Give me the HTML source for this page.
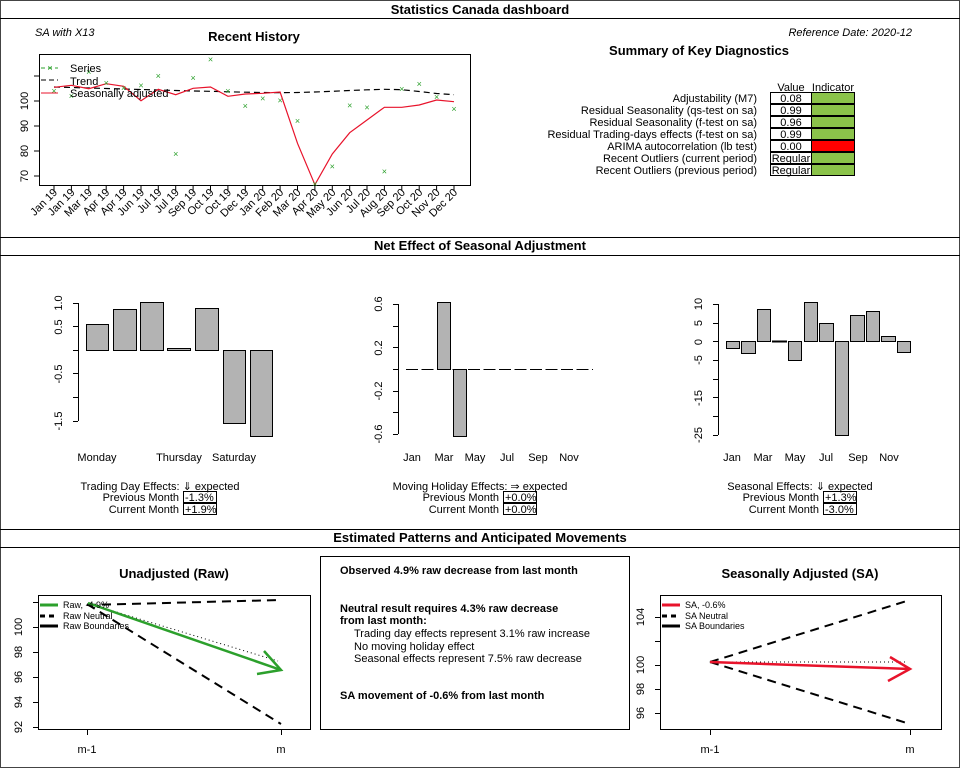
<!DOCTYPE html>
<html><head><meta charset="utf-8"><style>
html,body{margin:0;padding:0;background:#fff}
svg{display:block}
text{font-family:"Liberation Sans",Arial,sans-serif;fill:#000}
.b{font-weight:bold}
text.g{fill:#2ca02c}
</style></head><body>
<svg width="960" height="768" viewBox="0 0 960 768" xmlns="http://www.w3.org/2000/svg">
<rect x="0.5" y="0.5" width="959" height="767" fill="none" stroke="#444"/>
<line x1="0" y1="18.5" x2="960" y2="18.5" stroke="#000"/>
<line x1="0" y1="237.5" x2="960" y2="237.5" stroke="#000"/>
<line x1="0" y1="255.5" x2="960" y2="255.5" stroke="#000"/>
<line x1="0" y1="529.5" x2="960" y2="529.5" stroke="#000"/>
<line x1="0" y1="547.5" x2="960" y2="547.5" stroke="#000"/>
<text x="480" y="14" font-size="13" class="b" text-anchor="middle">Statistics Canada dashboard</text>
<text x="480" y="250" font-size="13" class="b" text-anchor="middle">Net Effect of Seasonal Adjustment</text>
<text x="480" y="542" font-size="13" class="b" text-anchor="middle">Estimated Patterns and Anticipated Movements</text>

<text x="35" y="36" font-size="11" font-style="italic">SA with X13</text>
<text x="912" y="36" font-size="11" font-style="italic" text-anchor="end">Reference Date: 2020-12</text>
<text x="254" y="41" font-size="13" class="b" text-anchor="middle">Recent History</text>
<rect x="39.5" y="54.5" width="431" height="131" fill="none" stroke="#000"/>
<g stroke="#000">
<line x1="34" y1="76" x2="39" y2="76"/><line x1="34" y1="101" x2="39" y2="101"/><line x1="34" y1="126" x2="39" y2="126"/><line x1="34" y1="151" x2="39" y2="151"/><line x1="34" y1="176" x2="39" y2="176"/>
</g>
<g font-size="11" text-anchor="middle">
<text transform="translate(28,101) rotate(-90)">100</text>
<text transform="translate(28,126) rotate(-90)">90</text>
<text transform="translate(28,151) rotate(-90)">80</text>
<text transform="translate(28,176) rotate(-90)">70</text>
</g>
<polyline fill="none" stroke="#000" stroke-width="1.2" stroke-dasharray="6,4" points="54,87 71.4,87.5 88.8,88 106.2,88.5 123.6,89 141,89.5 158.3,90 175.7,90.5 193.1,91 210.5,91.3 227.9,91.8 245.3,92.2 262.7,92.5 280.1,92.7 297.5,92.5 314.9,92 332.3,91.3 349.7,90.5 367,89.8 384.4,89.3 401.8,89.7 419.2,91.5 436.6,93.5 454,94.7"/>
<polyline fill="none" stroke="#e8132b" stroke-width="1.2" points="54,87.3 71.4,85.3 88.8,88.7 106.2,83.7 123.6,86.3 141,100.7 158.3,89.3 175.7,94.7 193.1,88.3 210.5,87 227.9,96.3 245.3,94 262.7,93.3 280.1,92 297.5,143.3 314.9,184.7 332.3,154 349.7,132.7 367,120 384.4,107.3 401.8,107.3 419.2,105 436.6,100 454,101.7"/>
<g font-size="9" text-anchor="middle" style="fill:#2ca02c">
<text class="g" x="54" y="94">×</text><text class="g" x="71.4" y="99">×</text><text class="g" x="88.8" y="75">×</text><text class="g" x="106.2" y="86">×</text><text class="g" x="123.6" y="91">×</text><text class="g" x="141" y="88.7">×</text><text class="g" x="158.3" y="79">×</text><text class="g" x="175.7" y="157">×</text><text class="g" x="193.1" y="81">×</text><text class="g" x="210.5" y="62.7">×</text><text class="g" x="227.9" y="94">×</text><text class="g" x="245.3" y="109">×</text><text class="g" x="262.7" y="101.7">×</text><text class="g" x="280.1" y="103.7">×</text><text class="g" x="297.5" y="124">×</text><text class="g" x="314.9" y="187">×</text><text class="g" x="332.3" y="169.7">×</text><text class="g" x="349.7" y="108.7">×</text><text class="g" x="367" y="110.7">×</text><text class="g" x="384.4" y="174.7">×</text><text class="g" x="401.8" y="92">×</text><text class="g" x="419.2" y="87">×</text><text class="g" x="436.6" y="100">×</text><text class="g" x="454" y="112">×</text>
</g>
<line x1="41" y1="68" x2="58" y2="68" stroke="#2ca02c" stroke-dasharray="4,3"/>
<text class="g" x="50" y="71" font-size="9" text-anchor="middle">×</text>
<line x1="41" y1="80" x2="58" y2="80" stroke="#000" stroke-dasharray="5,3"/>
<line x1="41" y1="93" x2="58" y2="93" stroke="#e8132b"/>
<g font-size="11"><text x="70" y="72">Series</text><text x="70" y="85">Trend</text><text x="70" y="97">Seasonally adjusted</text></g>
<g stroke="#000">
<line x1="54" y1="185" x2="54" y2="190"/><line x1="71.4" y1="185" x2="71.4" y2="190"/><line x1="88.8" y1="185" x2="88.8" y2="190"/><line x1="106.2" y1="185" x2="106.2" y2="190"/><line x1="123.6" y1="185" x2="123.6" y2="190"/><line x1="141" y1="185" x2="141" y2="190"/><line x1="158.3" y1="185" x2="158.3" y2="190"/><line x1="175.7" y1="185" x2="175.7" y2="190"/><line x1="193.1" y1="185" x2="193.1" y2="190"/><line x1="210.5" y1="185" x2="210.5" y2="190"/><line x1="227.9" y1="185" x2="227.9" y2="190"/><line x1="245.3" y1="185" x2="245.3" y2="190"/><line x1="262.7" y1="185" x2="262.7" y2="190"/><line x1="280.1" y1="185" x2="280.1" y2="190"/><line x1="297.5" y1="185" x2="297.5" y2="190"/><line x1="314.9" y1="185" x2="314.9" y2="190"/><line x1="332.3" y1="185" x2="332.3" y2="190"/><line x1="349.7" y1="185" x2="349.7" y2="190"/><line x1="367" y1="185" x2="367" y2="190"/><line x1="384.4" y1="185" x2="384.4" y2="190"/><line x1="401.8" y1="185" x2="401.8" y2="190"/><line x1="419.2" y1="185" x2="419.2" y2="190"/><line x1="436.6" y1="185" x2="436.6" y2="190"/><line x1="454" y1="185" x2="454" y2="190"/>
</g>
<g font-size="11" text-anchor="end">
<text transform="translate(58,193) rotate(-45)">Jan 19</text>
<text transform="translate(75.4,193) rotate(-45)">Jan 19</text>
<text transform="translate(92.8,193) rotate(-45)">Mar 19</text>
<text transform="translate(110.2,193) rotate(-45)">Apr 19</text>
<text transform="translate(127.6,193) rotate(-45)">Apr 19</text>
<text transform="translate(145,193) rotate(-45)">Jun 19</text>
<text transform="translate(162.3,193) rotate(-45)">Jul 19</text>
<text transform="translate(179.7,193) rotate(-45)">Jul 19</text>
<text transform="translate(197.1,193) rotate(-45)">Sep 19</text>
<text transform="translate(214.5,193) rotate(-45)">Oct 19</text>
<text transform="translate(231.9,193) rotate(-45)">Oct 19</text>
<text transform="translate(249.3,193) rotate(-45)">Dec 19</text>
<text transform="translate(266.7,193) rotate(-45)">Jan 20</text>
<text transform="translate(284.1,193) rotate(-45)">Feb 20</text>
<text transform="translate(301.5,193) rotate(-45)">Mar 20</text>
<text transform="translate(318.9,193) rotate(-45)">Apr 20</text>
<text transform="translate(336.3,193) rotate(-45)">May 20</text>
<text transform="translate(353.7,193) rotate(-45)">Jun 20</text>
<text transform="translate(371,193) rotate(-45)">Jul 20</text>
<text transform="translate(388.4,193) rotate(-45)">Aug 20</text>
<text transform="translate(405.8,193) rotate(-45)">Sep 20</text>
<text transform="translate(423.2,193) rotate(-45)">Oct 20</text>
<text transform="translate(440.6,193) rotate(-45)">Nov 20</text>
<text transform="translate(458,193) rotate(-45)">Dec 20</text>
</g>

<text x="699" y="55" font-size="13" class="b" text-anchor="middle">Summary of Key Diagnostics</text>
<text x="791" y="91" font-size="11" text-anchor="middle" text-decoration="underline">Value</text>
<text x="833" y="91" font-size="11" text-anchor="middle" text-decoration="underline">Indicator</text>
<g stroke="#000">
<rect x="770.5" y="92.5" width="41" height="11" fill="#fff"/><rect x="811.5" y="92.5" width="43" height="11" fill="#8bc34a"/>
<rect x="770.5" y="104.5" width="41" height="11" fill="#fff"/><rect x="811.5" y="104.5" width="43" height="11" fill="#8bc34a"/>
<rect x="770.5" y="116.5" width="41" height="11" fill="#fff"/><rect x="811.5" y="116.5" width="43" height="11" fill="#8bc34a"/>
<rect x="770.5" y="128.5" width="41" height="11" fill="#fff"/><rect x="811.5" y="128.5" width="43" height="11" fill="#8bc34a"/>
<rect x="770.5" y="140.5" width="41" height="11" fill="#fff"/><rect x="811.5" y="140.5" width="43" height="11" fill="#ff0000"/>
<rect x="770.5" y="152.5" width="41" height="11" fill="#fff"/><rect x="811.5" y="152.5" width="43" height="11" fill="#8bc34a"/>
<rect x="770.5" y="164.5" width="41" height="11" fill="#fff"/><rect x="811.5" y="164.5" width="43" height="11" fill="#8bc34a"/>
</g>
<g font-size="11" text-anchor="end">
<text x="757" y="102">Adjustability (M7)</text>
<text x="757" y="114">Residual Seasonality (qs-test on sa)</text>
<text x="757" y="126">Residual Seasonality (f-test on sa)</text>
<text x="757" y="138">Residual Trading-days effects (f-test on sa)</text>
<text x="757" y="150">ARIMA autocorrelation (lb test)</text>
<text x="757" y="162">Recent Outliers (current period)</text>
<text x="757" y="174">Recent Outliers (previous period)</text>
</g>
<g font-size="11" text-anchor="middle">
<text x="791" y="102">0.08</text><text x="791" y="114">0.99</text><text x="791" y="126">0.96</text><text x="791" y="138">0.99</text><text x="791" y="150">0.00</text><text x="791" y="162">Regular</text><text x="791" y="174">Regular</text>
</g>

<g stroke="#000">
<line x1="78.5" y1="303" x2="78.5" y2="421"/>
<line x1="73" y1="303.5" x2="78" y2="303.5"/><line x1="73" y1="326.5" x2="78" y2="326.5"/><line x1="73" y1="350.5" x2="78" y2="350.5"/><line x1="73" y1="373.5" x2="78" y2="373.5"/><line x1="73" y1="397.5" x2="78" y2="397.5"/><line x1="73" y1="421.5" x2="78" y2="421.5"/>
</g>
<g font-size="11" text-anchor="middle">
<text transform="translate(62,303) rotate(-90)">1.0</text>
<text transform="translate(62,327) rotate(-90)">0.5</text>
<text transform="translate(62,374) rotate(-90)">-0.5</text>
<text transform="translate(62,421) rotate(-90)">-1.5</text>
</g>
<g fill="#b3b3b3" stroke="#000">
<rect x="86.5" y="324.5" width="22" height="26"/>
<rect x="113.5" y="309.5" width="23" height="41"/>
<rect x="140.5" y="302.5" width="23" height="48"/>
<rect x="167.5" y="348.5" width="23" height="2"/>
<rect x="195.5" y="308.5" width="23" height="42"/>
<rect x="223.5" y="350.5" width="22" height="73"/>
<rect x="250.5" y="350.5" width="22" height="86"/>
</g>
<g font-size="11" text-anchor="middle"><text x="97" y="461">Monday</text><text x="179" y="461">Thursday</text><text x="234" y="461">Saturday</text></g>
<text x="160" y="490" font-size="11" text-anchor="middle">Trading Day Effects:  ⇓  expected</text>
<text x="179" y="501" font-size="11" text-anchor="end">Previous Month</text>
<text x="179" y="513" font-size="11" text-anchor="end">Current Month</text>
<rect x="183.5" y="491.5" width="33" height="11" fill="none" stroke="#000"/>
<rect x="183.5" y="503.5" width="33" height="11" fill="none" stroke="#000"/>
<text x="185" y="501" font-size="11">-1.3%</text>
<text x="185" y="513" font-size="11">+1.9%</text>

<g stroke="#000">
<line x1="398.5" y1="304" x2="398.5" y2="434"/>
<line x1="393" y1="304.5" x2="398" y2="304.5"/><line x1="393" y1="326.5" x2="398" y2="326.5"/><line x1="393" y1="347.5" x2="398" y2="347.5"/><line x1="393" y1="369.5" x2="398" y2="369.5"/><line x1="393" y1="391.5" x2="398" y2="391.5"/><line x1="393" y1="412.5" x2="398" y2="412.5"/><line x1="393" y1="434.5" x2="398" y2="434.5"/>
</g>
<g font-size="11" text-anchor="middle">
<text transform="translate(382,304) rotate(-90)">0.6</text>
<text transform="translate(382,348) rotate(-90)">0.2</text>
<text transform="translate(382,391) rotate(-90)">-0.2</text>
<text transform="translate(382,434) rotate(-90)">-0.6</text>
</g>
<line x1="406" y1="369.5" x2="593" y2="369.5" stroke="#000" stroke-dasharray="12,3.5"/>
<g fill="#b3b3b3" stroke="#000">
<rect x="437.5" y="302.5" width="13" height="67"/>
<rect x="453.5" y="369.5" width="13" height="67"/>
</g>
<g font-size="11" text-anchor="middle"><text x="412" y="461">Jan</text><text x="444" y="461">Mar</text><text x="475" y="461">May</text><text x="507" y="461">Jul</text><text x="538" y="461">Sep</text><text x="569" y="461">Nov</text></g>
<text x="480" y="490" font-size="11" text-anchor="middle">Moving Holiday Effects:  ⇒  expected</text>
<text x="499" y="501" font-size="11" text-anchor="end">Previous Month</text>
<text x="499" y="513" font-size="11" text-anchor="end">Current Month</text>
<rect x="503.5" y="491.5" width="33" height="11" fill="none" stroke="#000"/>
<rect x="503.5" y="503.5" width="33" height="11" fill="none" stroke="#000"/>
<text x="505" y="501" font-size="11">+0.0%</text>
<text x="505" y="513" font-size="11">+0.0%</text>

<g stroke="#000">
<line x1="718.5" y1="304" x2="718.5" y2="435"/>
<line x1="713" y1="304.5" x2="718" y2="304.5"/><line x1="713" y1="323.5" x2="718" y2="323.5"/><line x1="713" y1="341.5" x2="718" y2="341.5"/><line x1="713" y1="360.5" x2="718" y2="360.5"/><line x1="713" y1="379.5" x2="718" y2="379.5"/><line x1="713" y1="397.5" x2="718" y2="397.5"/><line x1="713" y1="416.5" x2="718" y2="416.5"/><line x1="713" y1="435.5" x2="718" y2="435.5"/>
</g>
<g font-size="11" text-anchor="middle">
<text transform="translate(702,304) rotate(-90)">10</text>
<text transform="translate(702,323) rotate(-90)">5</text>
<text transform="translate(702,342) rotate(-90)">0</text>
<text transform="translate(702,360) rotate(-90)">-5</text>
<text transform="translate(702,398) rotate(-90)">-15</text>
<text transform="translate(702,435) rotate(-90)">-25</text>
</g>
<g fill="#b3b3b3" stroke="#000">
<rect x="726.5" y="341.5" width="13" height="7"/>
<rect x="741.5" y="341.5" width="14" height="12"/>
<rect x="757.5" y="309.5" width="13" height="32"/>
<rect x="772.5" y="341" width="14" height="1"/>
<rect x="788.5" y="341.5" width="13" height="19"/>
<rect x="804.5" y="302.5" width="13" height="39"/>
<rect x="819.5" y="323.5" width="14" height="18"/>
<rect x="835.5" y="341.5" width="13" height="94"/>
<rect x="850.5" y="315.5" width="14" height="26"/>
<rect x="866.5" y="311.5" width="13" height="30"/>
<rect x="881.5" y="336.5" width="14" height="5"/>
<rect x="897.5" y="341.5" width="13" height="11"/>
</g>
<g font-size="11" text-anchor="middle"><text x="732" y="461">Jan</text><text x="763" y="461">Mar</text><text x="795" y="461">May</text><text x="826" y="461">Jul</text><text x="858" y="461">Sep</text><text x="889" y="461">Nov</text></g>
<text x="800" y="490" font-size="11" text-anchor="middle">Seasonal Effects:  ⇓  expected</text>
<text x="819" y="501" font-size="11" text-anchor="end">Previous Month</text>
<text x="819" y="513" font-size="11" text-anchor="end">Current Month</text>
<rect x="823.5" y="491.5" width="33" height="11" fill="none" stroke="#000"/>
<rect x="823.5" y="503.5" width="33" height="11" fill="none" stroke="#000"/>
<text x="825" y="501" font-size="11">+1.3%</text>
<text x="825" y="513" font-size="11">-3.0%</text>

<text x="174" y="578" font-size="13" class="b" text-anchor="middle">Unadjusted (Raw)</text>
<rect x="38.5" y="595.5" width="272" height="134" fill="none" stroke="#000"/>
<g stroke="#000">
<line x1="33" y1="602.5" x2="38" y2="602.5"/><line x1="33" y1="627.5" x2="38" y2="627.5"/><line x1="33" y1="652.5" x2="38" y2="652.5"/><line x1="33" y1="677.5" x2="38" y2="677.5"/><line x1="33" y1="702.5" x2="38" y2="702.5"/><line x1="33" y1="727.5" x2="38" y2="727.5"/>
<line x1="87.5" y1="730" x2="87.5" y2="735"/><line x1="281.5" y1="730" x2="281.5" y2="735"/>
</g>
<g font-size="11" text-anchor="middle">
<text transform="translate(22,627) rotate(-90)">100</text>
<text transform="translate(22,652) rotate(-90)">98</text>
<text transform="translate(22,677) rotate(-90)">96</text>
<text transform="translate(22,702) rotate(-90)">94</text>
<text transform="translate(22,727) rotate(-90)">92</text>
<text x="87" y="753">m-1</text><text x="281" y="753">m</text>
</g>
<g stroke="#000" stroke-width="2" stroke-dasharray="9,6" fill="none">
<line x1="87" y1="605" x2="281" y2="600"/>
<line x1="87" y1="604" x2="281" y2="724"/>
</g>
<line x1="90" y1="604" x2="278" y2="661" stroke="#000" stroke-dasharray="1,3"/>
<g stroke="#2ca02c" stroke-width="2.5" fill="none">
<line x1="88" y1="603" x2="281" y2="670"/>
<polyline points="264,651 281,670 257,674"/>
</g>
<line x1="40" y1="605" x2="58" y2="605" stroke="#2ca02c" stroke-width="3"/>
<line x1="40" y1="616" x2="58" y2="616" stroke="#000" stroke-width="3" stroke-dasharray="5,4"/>
<line x1="40" y1="626" x2="58" y2="626" stroke="#000" stroke-width="3"/>
<g font-size="9"><text x="63" y="608">Raw, -4.9%</text><text x="63" y="619">Raw Neutral</text><text x="63" y="629">Raw Boundaries</text></g>

<rect x="320.5" y="556.5" width="309" height="173" fill="none" stroke="#000"/>
<g font-size="11">
<text x="340" y="574" class="b">Observed 4.9% raw decrease from last month</text>
<text x="340" y="612" class="b">Neutral result requires 4.3% raw decrease</text>
<text x="340" y="624" class="b">from last month:</text>
<text x="354" y="637">Trading day effects represent 3.1% raw increase</text>
<text x="354" y="650">No moving holiday effect</text>
<text x="354" y="662">Seasonal effects represent 7.5% raw decrease</text>
<text x="340" y="699" class="b">SA movement of -0.6% from last month</text>
</g>

<text x="800" y="578" font-size="13" class="b" text-anchor="middle">Seasonally Adjusted (SA)</text>
<rect x="660.5" y="595.5" width="281" height="134" fill="none" stroke="#000"/>
<g stroke="#000">
<line x1="655" y1="617.5" x2="660" y2="617.5"/><line x1="655" y1="641.5" x2="660" y2="641.5"/><line x1="655" y1="665.5" x2="660" y2="665.5"/><line x1="655" y1="689.5" x2="660" y2="689.5"/><line x1="655" y1="713.5" x2="660" y2="713.5"/>
<line x1="710.5" y1="730" x2="710.5" y2="735"/><line x1="910.5" y1="730" x2="910.5" y2="735"/>
</g>
<g font-size="11" text-anchor="middle">
<text transform="translate(644,617) rotate(-90)">104</text>
<text transform="translate(644,665) rotate(-90)">100</text>
<text transform="translate(644,689) rotate(-90)">98</text>
<text transform="translate(644,713) rotate(-90)">96</text>
<text x="710" y="753">m-1</text><text x="910" y="753">m</text>
</g>
<g stroke="#000" stroke-width="2" stroke-dasharray="9,6" fill="none">
<line x1="710" y1="662" x2="910" y2="600"/>
<line x1="710" y1="662" x2="910" y2="724"/>
</g>
<line x1="712" y1="662" x2="908" y2="662" stroke="#000" stroke-dasharray="1,3"/>
<g stroke="#e8132b" stroke-width="2.5" fill="none">
<line x1="710" y1="662" x2="910" y2="669"/>
<polyline points="890,657 910,669 888,681"/>
</g>
<line x1="662" y1="605" x2="680" y2="605" stroke="#e8132b" stroke-width="3"/>
<line x1="662" y1="616" x2="680" y2="616" stroke="#000" stroke-width="3" stroke-dasharray="5,4"/>
<line x1="662" y1="626" x2="680" y2="626" stroke="#000" stroke-width="3"/>
<g font-size="9"><text x="685" y="608">SA, -0.6%</text><text x="685" y="619">SA Neutral</text><text x="685" y="629">SA Boundaries</text></g>
</svg>
</body></html>
